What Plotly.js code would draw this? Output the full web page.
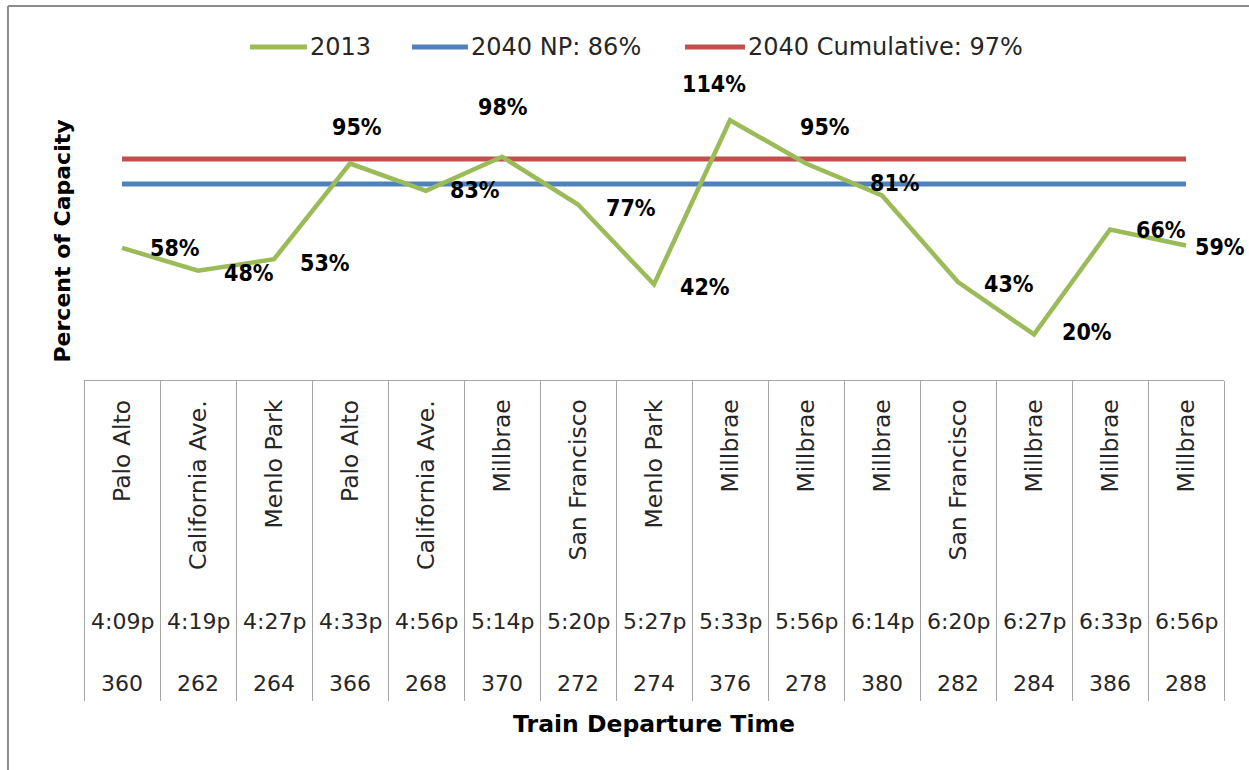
<!DOCTYPE html>
<html>
<head>
<meta charset="utf-8">
<script src="https://cdn.plot.ly/plotly-3.0.1.min.js"></script>
<style>
  html, body { margin: 0; padding: 0; background: #ffffff; }
  #chart { width: 1249px; height: 770px; }
</style>
</head>
<body>
<div id="chart"></div>
<script>
// ---- data ----
const stations = ['Palo Alto', 'California Ave.', 'Menlo Park', 'Palo Alto', 'California Ave.', 'Millbrae', 'San Francisco', 'Menlo Park', 'Millbrae', 'Millbrae', 'Millbrae', 'San Francisco', 'Millbrae', 'Millbrae', 'Millbrae'];
const departTimes = ['4:09p', '4:19p', '4:27p', '4:33p', '4:56p', '5:14p', '5:20p', '5:27p', '5:33p', '5:56p', '6:14p', '6:20p', '6:27p', '6:33p', '6:56p'];
const trainNumbers = ['360', '262', '264', '366', '268', '370', '272', '274', '376', '278', '380', '282', '284', '386', '288'];
const load2013 = [58, 48, 53, 95, 83, 98, 77, 42, 114, 95, 81, 43, 20, 66, 59];
const load2040NP = [86, 86, 86, 86, 86, 86, 86, 86, 86, 86, 86, 86, 86, 86, 86];
const load2040Cumulative = [97, 97, 97, 97, 97, 97, 97, 97, 97, 97, 97, 97, 97, 97, 97];
const seriesNames = ['2013', '2040 NP: 86%', '2040 Cumulative: 97%'];

// ---- presentation ----
const seriesColors = ['#9BBB59', '#4F81BD', '#C0504D'];
const labelShift = [[53, 0], [51, 2], [51, 4], [7, -37], [49, -1], [1, -50], [53, 3], [51, 3], [-16, -36], [19, -37], [13, -12], [51, 2], [53, -2], [51, 0], [34, 1]];
// legend key placement (paper x: line start, line end)
const legendKeys = [[0.1456, 0.1956], [0.2877, 0.3368], [0.5272, 0.5798]];
const legendY = 1.198;

const xs = trainNumbers.map((_, i) => i);
const n = xs.length;
const boundaries = xs.map(i => i - 0.5).concat([n - 0.5]);

const txtFont = 'DejaVu Sans, Verdana, sans-serif';
const boldNarrow = 'DejaVu Sans Condensed, Liberation Sans Narrow, DejaVu Sans, sans-serif';
const txtColor = '#262626';
const gridColor = '#A6A6A6';

const seriesValues = [load2013, load2040NP, load2040Cumulative];
const lineWidths = [4.5, 5, 5];
const traces = seriesValues.map((vals, k) => ({
  x: xs, y: vals, name: seriesNames[k], type: 'scatter', mode: 'lines',
  line: { color: seriesColors[k], width: lineWidths[k] }, hoverinfo: 'skip', showlegend: false
}));
const ordered = [traces[1], traces[2], traces[0]];

const annotations = [];
const shapes = [];
load2013.forEach((v, i) => {
  annotations.push({
    x: xs[i], y: v, xref: 'x', yref: 'y', text: v + '%', showarrow: false,
    xshift: labelShift[i][0], yshift: -labelShift[i][1],
    xanchor: 'center', yanchor: 'middle',
    font: { family: boldNarrow, size: 23, color: '#000000', weight: 'bold' }
  });
});
xs.forEach(i => {
  annotations.push({
    x: i, y: -0.0647, xref: 'x', yref: 'paper', text: stations[i], textangle: -90,
    showarrow: false, xanchor: 'center', yanchor: 'top',
    font: { family: txtFont, size: 23.5, color: txtColor }
  });
  annotations.push({
    x: i, y: -0.867, xref: 'x', yref: 'paper', text: departTimes[i],
    showarrow: false, xanchor: 'center', yanchor: 'middle',
    font: { family: txtFont, size: 22, color: txtColor }
  });
  annotations.push({
    x: i, y: -1.09, xref: 'x', yref: 'paper', text: trainNumbers[i],
    showarrow: false, xanchor: 'center', yanchor: 'middle',
    font: { family: txtFont, size: 22, color: txtColor }
  });
});

// legend (drawn as keys + texts to match the original's long keys)
seriesNames.forEach((name, k) => {
  shapes.push({ type: 'line', xref: 'paper', yref: 'paper',
    x0: legendKeys[k][0], x1: legendKeys[k][1], y0: legendY, y1: legendY,
    line: { color: seriesColors[k], width: 5 } });
  annotations.push({ xref: 'paper', yref: 'paper', x: legendKeys[k][1] + 0.001, y: legendY,
    text: name, showarrow: false, xanchor: 'left', yanchor: 'middle',
    font: { family: txtFont, size: 24, color: txtColor } });
});

// chart frame
shapes.push({ type: 'line', xref: 'paper', yref: 'paper', x0: -0.0667, x1: -0.0667, y0: 1.345, y1: -1.41,
  line: { color: '#8C8C8C', width: 2 } });
shapes.push({ type: 'line', xref: 'paper', yref: 'paper', x0: -0.0667, x1: 1.03, y0: 1.345, y1: 1.345,
  line: { color: '#8C8C8C', width: 2 } });

const layout = {
  width: 1249, height: 770,
  margin: { l: 84, r: 25, t: 102, b: 390 },
  paper_bgcolor: '#ffffff', plot_bgcolor: '#ffffff',
  showlegend: false,
  xaxis: {
    range: [-0.5, n - 0.5], showgrid: false, zeroline: false,
    showline: true, linecolor: gridColor, linewidth: 1,
    ticks: 'outside', tickmode: 'array', tickvals: boundaries, ticklen: 320,
    tickcolor: gridColor, tickwidth: 1, showticklabels: false, fixedrange: true,
    title: { text: 'Train Departure Time', standoff: 15,
             font: { family: 'DejaVu Sans, sans-serif', size: 23.5, color: '#000000', weight: 'bold' } }
  },
  yaxis: {
    range: [0, 122], showgrid: false, zeroline: false, showline: false,
    showticklabels: false, ticks: '', fixedrange: true,
    title: { text: 'Percent of Capacity', standoff: 6,
             font: { family: 'DejaVu Sans, sans-serif', size: 22, color: '#000000', weight: 'bold' } }
  },
  shapes: shapes,
  annotations: annotations
};

Plotly.newPlot('chart', ordered, layout, { displayModeBar: false, staticPlot: true });
</script>
</body>
</html>
